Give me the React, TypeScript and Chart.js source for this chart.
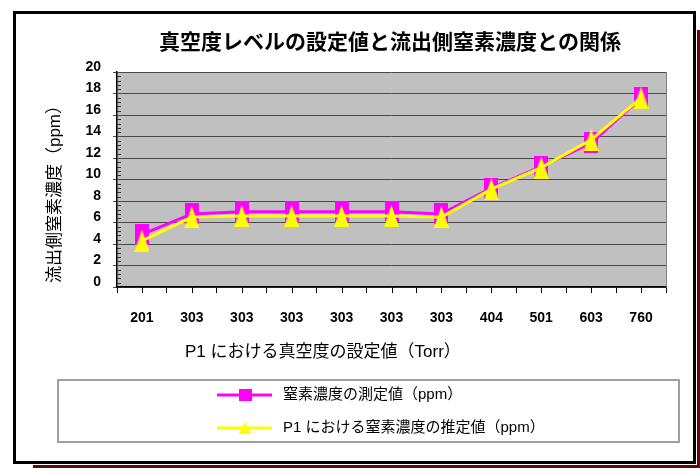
import React, { useEffect, useRef } from "react";
import { Chart, registerables } from "chart.js";

Chart.register(...registerables);

const CATEGORIES = ["201", "303", "303", "303", "303", "303", "303", "404", "501", "603", "760"];
const MEASURED = [4.9, 6.8, 7.0, 7.0, 7.0, 7.0, 6.8, 9.2, 11.2, 13.4, 17.6];
const ESTIMATED = [4.3, 6.5, 6.6, 6.6, 6.6, 6.6, 6.5, 9.1, 11.1, 13.7, 17.6];
const Y_MIN = 0;
const Y_MAX = 20;
const Y_STEP = 2;
const SERIES_LABELS = ["窒素濃度の測定値（ppm）", "P1 における窒素濃度の推定値（ppm）"];
const TITLE = "真空度レベルの設定値と流出側窒素濃度との関係";
const X_TITLE = "P1 における真空度の設定値（Torr）";
const Y_TITLE = "流出側窒素濃度（ppm）";

const FAMILY = '"Liberation Sans", Arial, "Noto Sans CJK JP", sans-serif';
const MAGENTA = "#ff00ff";
const YELLOW = "#ffff00";

function makeMarker(kind: "rect" | "tri", w: number, h: number, color: string) {
  const c = document.createElement("canvas");
  c.width = w;
  c.height = h;
  const ctx = c.getContext("2d")!;
  ctx.fillStyle = color;
  if (kind === "rect") {
    ctx.fillRect(0, 0, w, h);
  } else {
    ctx.beginPath();
    ctx.moveTo(w / 2, 0);
    ctx.lineTo(w, h);
    ctx.lineTo(0, h);
    ctx.closePath();
    ctx.fill();
  }
  return c;
}

export default function App() {
  const ref = useRef<HTMLCanvasElement | null>(null);

  useEffect(() => {
    if (!ref.current) return;
    const sqMarker = makeMarker("rect", 14, 21, MAGENTA);
    const triMarker = makeMarker("tri", 15, 22, YELLOW);
    const sqLegend = makeMarker("rect", 13, 12, MAGENTA);
    const triLegend = makeMarker("tri", 13, 12, YELLOW);
    const legendMarkers = [sqLegend, triLegend];

    const decor = {
      id: "decor",
      beforeDraw(chart: any) {
        const { ctx, chartArea: a } = chart;
        ctx.save();
        ctx.fillStyle = "#ffffff";
        ctx.fillRect(0, 0, chart.width, chart.height);
        ctx.fillStyle = "#5c0a0a";
        ctx.fillRect(33, 30, 667, 438);
        ctx.fillStyle = "#ffffff";
        ctx.fillRect(12, 10, 685, 455);
        ctx.strokeStyle = "#000000";
        ctx.lineWidth = 3;
        ctx.strokeRect(14.5, 12.5, 680, 450);
        ctx.fillStyle = "#c0c0c0";
        ctx.fillRect(a.left, a.top, a.right - a.left, a.bottom - a.top);
        ctx.restore();
      },
      beforeDatasetsDraw(chart: any) {
        const { ctx, chartArea: a, scales } = chart;
        const ys = scales.y;
        const xs = scales.x;
        ctx.save();
        ctx.strokeStyle = "#808080";
        ctx.lineWidth = 1;
        ctx.beginPath();
        ctx.moveTo(a.right + 0.5, a.top);
        ctx.lineTo(a.right + 0.5, a.bottom);
        ctx.stroke();
        // minor ticks on y axis (inside)
        ctx.strokeStyle = "#333333";
        ctx.beginPath();
        for (let k = 0; k <= 50; k++) {
          if (k % 5 === 0) continue;
          const py = Math.round(ys.getPixelForValue(k * 0.4)) + 0.5;
          ctx.moveTo(a.left, py);
          ctx.lineTo(a.left + 4, py);
        }
        ctx.stroke();
        // tick marks at category centres
        ctx.strokeStyle = "#000000";
        ctx.beginPath();
        for (let i = 0; i < CATEGORIES.length; i++) {
          const px = Math.round(xs.getPixelForValue(i)) + 0.5;
          ctx.moveTo(px, a.bottom);
          ctx.lineTo(px, a.bottom + 6);
        }
        ctx.stroke();
        ctx.restore();
      },
      afterDraw(chart: any) {
        const { ctx } = chart;
        ctx.save();
        ctx.fillStyle = "#000000";
        ctx.textBaseline = "middle";
        // title
        ctx.textAlign = "center";
        ctx.font = `bold 21px ${FAMILY}`;
        ctx.fillText(TITLE, 390, 43);
        // x title
        ctx.textAlign = "left";
        ctx.font = `17px ${FAMILY}`;
        ctx.fillText(X_TITLE, 185, 352);
        // y title
        ctx.save();
        ctx.translate(55, 190);
        ctx.rotate(-Math.PI / 2);
        ctx.textAlign = "center";
        ctx.fillText(Y_TITLE, 0, 0);
        ctx.restore();
        // legend box
        ctx.strokeStyle = "#a0a0a0";
        ctx.lineWidth = 2;
        ctx.strokeRect(58, 380, 621, 62);
        // legend items
        chart.data.datasets.forEach((ds: any, i: number) => {
          const y = 395 + i * 33;
          ctx.strokeStyle = ds.borderColor;
          ctx.lineWidth = 3;
          ctx.beginPath();
          ctx.moveTo(217, y);
          ctx.lineTo(272, y);
          ctx.stroke();
          const m = legendMarkers[i];
          ctx.drawImage(m, 245 - m.width / 2, y - m.height / 2);
          ctx.fillStyle = "#000000";
          ctx.textAlign = "left";
          ctx.font = `15px ${FAMILY}`;
          ctx.fillText(ds.label, 283, y);
        });
        ctx.restore();
      },
    };

    const tickFont = { family: FAMILY, size: 14, weight: "bold" as const };

    const chart = new Chart(ref.current, {
      type: "line",
      data: {
        labels: CATEGORIES,
        datasets: [
          {
            label: SERIES_LABELS[0],
            data: MEASURED,
            borderColor: MAGENTA,
            backgroundColor: MAGENTA,
            borderWidth: 3,
            pointStyle: sqMarker as any,
            pointRadius: 7,
            tension: 0,
            order: 2,
          },
          {
            label: SERIES_LABELS[1],
            data: ESTIMATED,
            borderColor: YELLOW,
            backgroundColor: YELLOW,
            borderWidth: 3,
            pointStyle: triMarker as any,
            pointRadius: 7,
            tension: 0,
            order: 1,
          },
        ],
      },
      options: {
        responsive: false,
        animation: false,
        events: [],
        layout: { padding: { left: 0, top: 72, right: 34, bottom: 0 } },
        plugins: {
          legend: { display: false },
          tooltip: { enabled: false },
          title: { display: false },
        },
        scales: {
          x: {
            type: "category",
            offset: true,
            grid: {
              display: true,
              drawOnChartArea: false,
              drawTicks: true,
              tickLength: 6,
              offset: true,
              color: "#000000",
            },
            border: { color: "#000000", width: 1.5 },
            ticks: {
              color: "#000000",
              font: tickFont,
              padding: 17,
              maxRotation: 0,
              autoSkip: false,
            },
            afterFit: (s: any) => {
              s.height = 181;
            },
          },
          y: {
            min: Y_MIN,
            max: Y_MAX,
            ticks: {
              stepSize: Y_STEP,
              color: "#000000",
              font: tickFont,
              padding: 12,
              labelOffset: -5,
            },
            grid: { color: "#4a4a4a", tickLength: 4, drawTicks: true },
            border: { color: "#000000", width: 1.5 },
            afterFit: (s: any) => {
              s.width = 117;
            },
          },
        },
      },
      plugins: [decor],
    });
    return () => chart.destroy();
  }, []);

  return (
    <div style={{ position: "fixed", left: 0, top: 0, width: 700, height: 468, background: "#fff" }}>
      <canvas ref={ref} width={700} height={468} style={{ display: "block" }} />
    </div>
  );
}
